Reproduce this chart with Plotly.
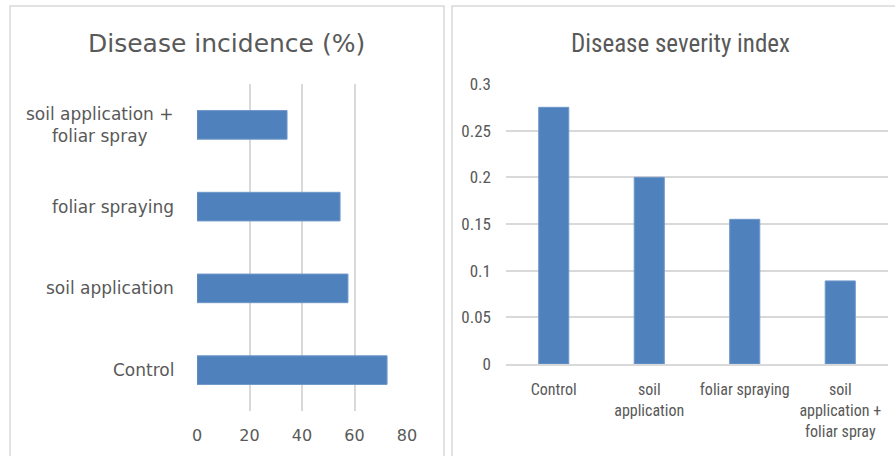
import plotly.graph_objects as go

# ---- data ----
inc_categories = ["Control", "soil application", "foliar spraying", "soil application +<br>foliar spray"]
inc_values = [72.4, 57.5, 54.5, 34.3]
inc_ticks = [0, 20, 40, 60, 80]

sev_categories = ["Control", "soil<br>application", "foliar spraying", "soil<br>application +<br>foliar spray"]
sev_values = [0.275, 0.200, 0.155, 0.089]
sev_ticks = [0, 0.05, 0.1, 0.15, 0.2, 0.25, 0.3]
sev_ticktext = ["0", "0.05", "0.1", "0.15", "0.2", "0.25", "0.3"]

W, H = 895, 456
BAR = "#4F81BD"
TXT = "#595959"
GRID = "#d9d9d9"
FONT = "'DejaVu Sans', 'Open Sans', sans-serif"
NARROW = "'Liberation Sans Narrow', 'Roboto Condensed', Lato, sans-serif"

def px(x):
    return x / W

def py(y):
    return 1 - y / H

fig = go.Figure()

fig.add_trace(go.Bar(
    y=inc_categories, x=inc_values, orientation="h",
    marker=dict(color=BAR, line=dict(color="#6f97c9", width=1)),
    xaxis="x", yaxis="y", showlegend=False, hoverinfo="skip",
))
fig.add_trace(go.Bar(
    x=sev_categories, y=sev_values, width=0.315,
    marker=dict(color=BAR, line=dict(color="#6f97c9", width=1)),
    xaxis="x2", yaxis="y2", showlegend=False, hoverinfo="skip",
))

fig.update_layout(
    width=W, height=H,
    margin=dict(l=0, r=0, t=0, b=0, autoexpand=False),
    paper_bgcolor="white", plot_bgcolor="white",
    bargap=0.65,
    xaxis=dict(domain=[px(197), px(407)], range=[0, 80], tickvals=inc_ticks,
               showgrid=True, gridcolor=GRID, gridwidth=1.5, zeroline=False,
               showline=False, ticks="", anchor="y", automargin=False,
               tickfont=dict(family=FONT, size=16, color=TXT), ticklabelstandoff=13),
    yaxis=dict(domain=[py(411), py(84)], categoryorder="array",
               categoryarray=inc_categories, showticklabels=False, automargin=False,
               showgrid=False, zeroline=False, showline=False, ticks="", anchor="x"),
    xaxis2=dict(domain=[px(506), px(888)], categoryorder="array",
                categoryarray=sev_categories, showgrid=False, zeroline=False,
                showline=True, linecolor=GRID, linewidth=1.5, ticks="", anchor="y2",
                automargin=False,
                tickfont=dict(family=NARROW, size=16, color=TXT), ticklabelstandoff=10,
                tickangle=0),
    yaxis2=dict(domain=[py(364), py(84)], range=[0, 0.3], tickvals=sev_ticks,
                ticktext=sev_ticktext, showgrid=True, gridcolor=GRID, gridwidth=1.5,
                zeroline=False, showline=False, ticks="", anchor="x2", automargin=False,
                tickfont=dict(family=NARROW, size=17, color=TXT), ticklabelstandoff=14),
)

# left category labels (right-aligned block, centered lines like the original)
for cat in inc_categories:
    fig.add_annotation(x=px(176), y=cat, xref="paper", yref="y", text=cat,
                       showarrow=False, xanchor="right", yanchor="middle", align="center",
                       font=dict(family=FONT, size=17, color=TXT))

# titles
fig.add_annotation(x=px(226), y=py(43), xref="paper", yref="paper",
                   xanchor="center", yanchor="middle",
                   text="Disease incidence (%)", showarrow=False,
                   font=dict(family=FONT, size=25, color=TXT))
fig.add_annotation(x=px(680), y=py(43), xref="paper", yref="paper",
                   xanchor="center", yanchor="middle",
                   text="Disease severity index", showarrow=False,
                   font=dict(family=NARROW, size=25, color=TXT))

# panel borders
fig.add_shape(type="rect", xref="paper", yref="paper", x0=px(10), x1=px(444),
              y0=py(470), y1=py(6), line=dict(color=GRID, width=1.5))
fig.add_shape(type="rect", xref="paper", yref="paper", x0=px(452), x1=px(910),
              y0=py(470), y1=py(6), line=dict(color=GRID, width=1.5))

fig.write_html("out.html", config={"displayModeBar": False},
               post_script="document.body.style.margin='0';")
